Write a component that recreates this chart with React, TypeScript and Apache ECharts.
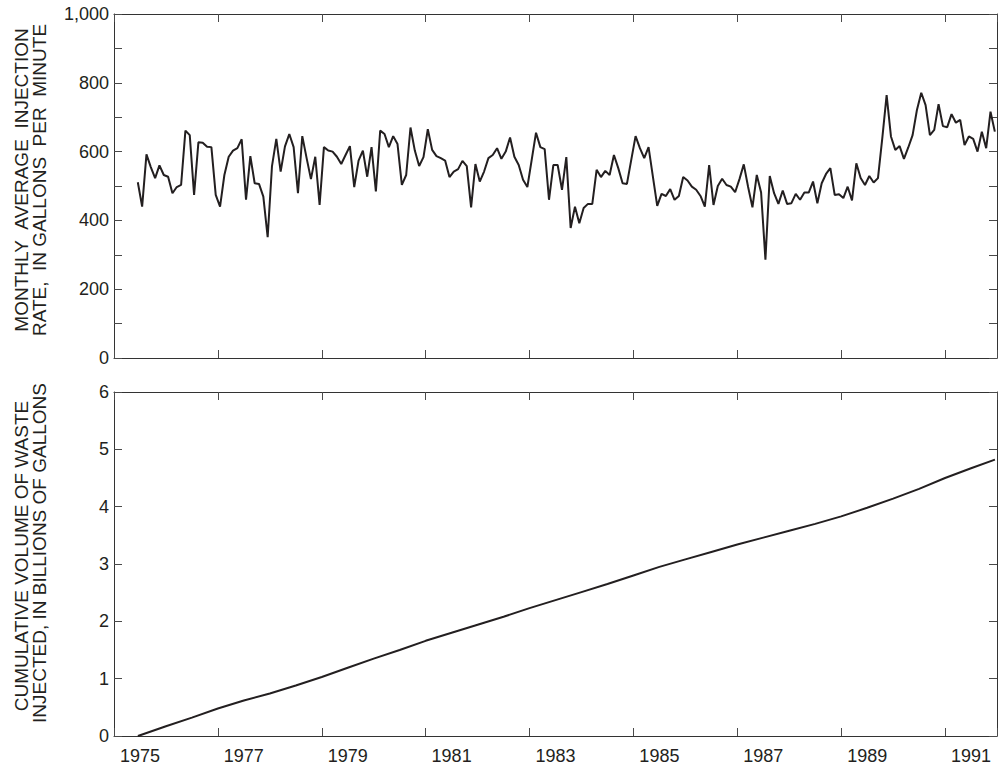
import React, { useEffect, useRef } from 'react';
import * as echarts from 'echarts';

// Year labels for the x axis (each label centred on its year)
const yearLabels = ['1975', '1976', '1977', '1978', '1979', '1980', '1981', '1982', '1983', '1984', '1985', '1986', '1987', '1988', '1989', '1990', '1991'];

// Monthly average injection rate, gallons per minute (June 1975 – December 1991)
const rate1975 = [511, 440, 592, 555, 523, 560, 532]; // Jun–Dec
const rate1976 = [527, 479, 497, 503, 661, 648, 474, 627, 626, 614, 613, 474];
const rate1977 = [440, 532, 585, 603, 610, 636, 460, 587, 508, 506, 469, 351];
const rate1978 = [558, 637, 542, 615, 651, 613, 479, 645, 581, 520, 585, 445];
const rate1979 = [613, 603, 600, 585, 564, 590, 616, 497, 574, 603, 527, 613];
const rate1980 = [484, 661, 651, 613, 645, 622, 503, 532, 670, 603, 558, 584];
const rate1981 = [665, 605, 587, 581, 574, 526, 542, 549, 573, 558, 438, 564];
const rate1982 = [513, 542, 581, 590, 610, 579, 600, 641, 585, 561, 518, 497];
const rate1983 = [576, 655, 613, 607, 460, 561, 561, 489, 584, 378, 440, 392];
const rate1984 = [436, 448, 448, 547, 526, 544, 532, 590, 552, 508, 506, 576];
const rate1985 = [645, 610, 581, 613, 527, 442, 477, 471, 491, 460, 471, 526];
const rate1986 = [516, 498, 489, 471, 440, 561, 445, 500, 521, 503, 498, 482];
const rate1987 = [520, 563, 497, 438, 532, 481, 286, 529, 479, 448, 487, 448];
const rate1988 = [450, 477, 460, 481, 481, 513, 450, 508, 535, 552, 474, 476];
const rate1989 = [465, 498, 458, 566, 523, 503, 529, 510, 523, 639, 764, 644];
const rate1990 = [605, 616, 579, 612, 648, 721, 771, 735, 648, 663, 738, 674];
const rate1991 = [671, 709, 684, 692, 619, 644, 637, 600, 658, 610, 716, 658];

const rateByYear: [number, number, number[]][] = [
  [1975, 6, rate1975],
  [1976, 1, rate1976],
  [1977, 1, rate1977],
  [1978, 1, rate1978],
  [1979, 1, rate1979],
  [1980, 1, rate1980],
  [1981, 1, rate1981],
  [1982, 1, rate1982],
  [1983, 1, rate1983],
  [1984, 1, rate1984],
  [1985, 1, rate1985],
  [1986, 1, rate1986],
  [1987, 1, rate1987],
  [1988, 1, rate1988],
  [1989, 1, rate1989],
  [1990, 1, rate1990],
  [1991, 1, rate1991],
];

// Cumulative volume of waste injected, billions of gallons (read at half-year dates)
const cumulativeDates = [1975.46, 1976.0, 1976.5, 1977.0, 1977.5, 1978.0, 1978.5, 1979.0, 1979.5, 1980.0, 1980.5, 1981.0, 1981.5, 1982.0, 1982.5, 1983.0, 1983.5, 1984.0, 1984.5, 1985.0, 1985.5, 1986.0, 1986.5, 1987.0, 1987.5, 1988.0, 1988.5, 1989.0, 1989.5, 1990.0, 1990.5, 1991.0, 1991.5, 1991.96];
const cumulativeValues = [0, 0.17, 0.32, 0.48, 0.62, 0.74, 0.88, 1.03, 1.19, 1.35, 1.5, 1.66, 1.8, 1.94, 2.08, 2.23, 2.37, 2.51, 2.65, 2.8, 2.95, 3.08, 3.21, 3.34, 3.46, 3.58, 3.7, 3.83, 3.98, 4.14, 4.31, 4.5, 4.67, 4.82];

const topYTicks = { min: 0, max: 1000, interval: 100 };
const bottomYTicks = { min: 0, max: 6, interval: 1 };

const SP = '\u00a0\u00a0';
const topTitle1 = `MONTHLY${SP}AVERAGE${SP}INJECTION`;
const topTitle2 = `RATE,${SP}IN GALLONS${SP}PER${SP}MINUTE`;
const bottomTitle1 = 'CUMULATIVE VOLUME OF WASTE';
const bottomTitle2 = 'INJECTED, IN BILLIONS OF GALLONS';

const FONT = '"Liberation Sans", Arial, Helvetica, sans-serif';
const INK = '#231f20';
const AXIS = '#333333';
const TICK = '#4a4a4a';

export default function App() {
  const ref = useRef<HTMLDivElement>(null);

  useEffect(() => {
    document.body.style.margin = '0';
    const chart = echarts.init(ref.current!, null, { renderer: 'svg' });

    const rateData: [number, number][] = [];
    rateByYear.forEach(([yr, startMonth, vals]) => {
      vals.forEach((v, i) => {
        rateData.push([yr + (startMonth - 1 + i + 0.5) / 12, v]);
      });
    });
    const cumData = cumulativeDates.map((d, i) => [d, cumulativeValues[i]]);

    const grids = [
      { left: 114, right: 3, top: 14, height: 344 },
      { left: 114, right: 3, top: 392, height: 344 },
    ];

    const dataX = (gridIndex: number) => ({
      type: 'value',
      gridIndex,
      min: 1975,
      max: 1992,
      interval: 1,
      position: 'bottom',
      show: false,
    });
    const catX = (gridIndex: number, position: string, showLabels: boolean) => ({
      type: 'category',
      gridIndex,
      position,
      data: yearLabels,
      boundaryGap: true,
      axisLine: { show: true, lineStyle: { color: AXIS, width: 1 } },
      axisTick: { show: true, inside: true, length: 8, alignWithLabel: false, lineStyle: { color: TICK, width: 1 } },
      axisLabel: {
        show: showLabels,
        interval: 1,
        margin: 11,
        color: INK,
        fontSize: 18,
        fontFamily: FONT,
      },
      splitLine: { show: false },
    });
    const valY = (gridIndex: number, position: string, ticks: any, showLabels: boolean, fmt: (v: number) => string) => ({
      type: 'value',
      gridIndex,
      position,
      min: ticks.min,
      max: ticks.max,
      interval: ticks.interval,
      axisLine: { show: true, lineStyle: { color: AXIS, width: 1 } },
      axisTick: { show: true, inside: true, length: 8, lineStyle: { color: TICK, width: 1 } },
      axisLabel: {
        show: showLabels,
        margin: 5,
        color: INK,
        fontSize: 18,
        fontFamily: FONT,
        formatter: fmt,
      },
      splitLine: { show: false },
    });

    const topFmt = (v: number) => (v % 200 === 0 ? v.toLocaleString('en-US') : '');
    const botFmt = (v: number) => String(v);

    const titleText = (x: number, y: number, text: string) => ({
      type: 'text',
      x,
      y,
      rotation: Math.PI / 2,
      style: {
        text,
        x: 0,
        y: 0,
        fill: INK,
        font: `19px ${FONT}`,
        align: 'center',
        verticalAlign: 'middle',
        textAlign: 'center',
        textVerticalAlign: 'middle',
      },
    });

    const option: any = {
      animation: false,
      backgroundColor: '#ffffff',
      grid: grids,
      xAxis: [
        dataX(0),
        catX(0, 'bottom', false),
        catX(0, 'top', false),
        dataX(1),
        catX(1, 'bottom', true),
        catX(1, 'top', false),
      ],
      yAxis: [
        valY(0, 'left', topYTicks, true, topFmt),
        valY(0, 'right', topYTicks, false, topFmt),
        valY(1, 'left', bottomYTicks, true, botFmt),
        valY(1, 'right', bottomYTicks, false, botFmt),
      ],
      series: [
        {
          type: 'line',
          xAxisIndex: 0,
          yAxisIndex: 0,
          data: rateData,
          showSymbol: false,
          symbol: 'none',
          lineStyle: { color: INK, width: 2 },
        },
        {
          type: 'line',
          xAxisIndex: 3,
          yAxisIndex: 2,
          data: cumData,
          showSymbol: false,
          symbol: 'none',
          lineStyle: { color: INK, width: 2 },
        },
      ],
      graphic: [
        titleText(21, 180, topTitle1),
        titleText(39, 180, topTitle2),
        titleText(21, 556, bottomTitle1),
        titleText(39, 553, bottomTitle2),
      ],
    };

    chart.setOption(option);
    return () => chart.dispose();
  }, []);

  return <div ref={ref} style={{ width: 1000, height: 765 }} />;
}
